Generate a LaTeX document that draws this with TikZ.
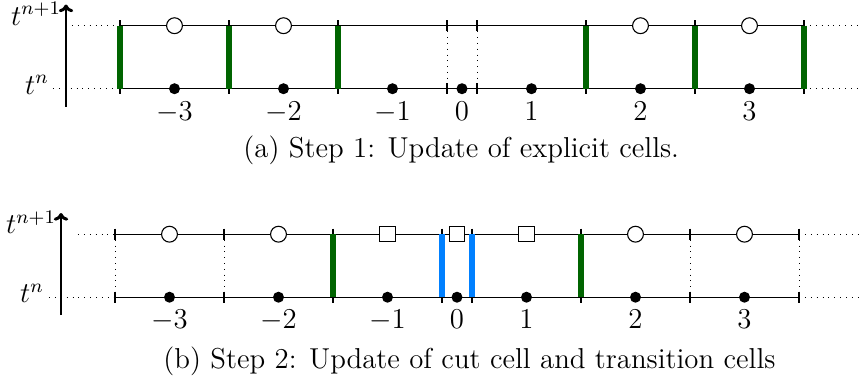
\documentclass[tikz,border=0pt]{standalone}
\usetikzlibrary{arrows.meta}
\definecolor{wallgreen}{RGB}{0,100,0}
\definecolor{cutblue}{RGB}{0,128,255}
\tikzset{
  levelline/.style={line width=0.45pt},
  extline/.style={dotted, line width=0.45pt},
  tickmark/.style={line width=0.45pt},
  faceline/.style={dotted, line width=0.4pt},
  greenwall/.style={draw=wallgreen, line width=2.1pt},
  bluewall/.style={draw=cutblue, line width=2.1pt},
  timearrow/.style={-{To[length=3.2pt,width=6pt]}, line width=1.25pt},
  newval/.style={circle, draw, fill=white, line width=0.45pt, inner sep=0pt, minimum size=6.6pt},
  cutval/.style={rectangle, draw, fill=white, line width=0.45pt, inner sep=0pt, minimum size=6.4pt},
  oldval/.style={circle, fill=black, inner sep=0pt, minimum size=4.6pt},
  celllabel/.style={anchor=base, inner sep=0pt},
  levellabel/.style={anchor=base, inner sep=0pt},
  captiontext/.style={anchor=base west, inner sep=0pt}
}
\begin{document}
\begin{tikzpicture}[x=0.4167pt, y=-0.4167pt, font=\fontsize{12}{14.5}\selectfont]
\useasboundingbox (0,0) rectangle (860,388);

% ---------- panel (a): explicit cells ----------
\begin{scope}
  \node[levellabel] (a-ltop) at (36,25) {$t^{n+1}$};
  \node[levellabel] (a-lbot) at (37,94) {$t^{n}$};
  \coordinate (a-up0) at (66,106.5);
  \coordinate (a-up1) at (66,4.5);
  \draw[timearrow] (a-up0) -- (a-up1);
  \foreach \i/\x in {0/120,1/229,2/338,3/447,4/477,5/586,6/695,7/804} {
    \coordinate (a-t\i) at (\x,25.7);
    \coordinate (a-b\i) at (\x,88.7);
  }
  \coordinate (a-et) at (72,25.7);
  \coordinate (a-eb) at (53,88.7);
  \coordinate (a-rt) at (860,25.7);
  \coordinate (a-rb) at (860,88.7);
  \draw[extline] (a-et) -- (a-t0);
  \draw[extline] (a-eb) -- (a-b0);
  \draw[extline] (a-t7) -- (a-rt);
  \draw[extline] (a-b7) -- (a-rb);
  \draw[levelline] (a-t0) -- (a-t7);
  \draw[levelline] (a-b0) -- (a-b7);
  \foreach \i in {0,...,7} {
    \draw[tickmark] (a-t\i) ++(0,-5.5) -- ++(0,11);
    \draw[tickmark] (a-b\i) ++(0,-5.5) -- ++(0,11);
  }
  \draw[faceline] (a-t3) -- (a-b3);
  \draw[faceline] (a-t4) -- (a-b4);
  \foreach \i in {0,1,2,5,6,7}
    \draw[greenwall] (a-t\i) -- (a-b\i);
  \foreach \j/\c/\lab in {1/174.5/-3,2/283.5/-2,3/392.5/-1,4/462/0,5/531.5/1,6/640.5/2,7/749.5/3} {
    \node[oldval] (a-old\j) at (\c,88.7) {};
    \node[celllabel] (a-lab\j) at (\c,120) {$\lab$};
  }
  \foreach \j/\c in {1/174.5,2/283.5,6/640.5,7/749.5}
    \node[newval] (a-new\j) at (\c,25.7) {};
\end{scope}
\node[captiontext] (capa) at (243,157.5) {(a) Step 1: Update of explicit cells.};

% ---------- panel (b): cut cell and transition cells ----------
\begin{scope}[shift={(-5,208.5)}]
  \node[levellabel] (b-ltop) at (36,25) {$t^{n+1}$};
  \node[levellabel] (b-lbot) at (37,94) {$t^{n}$};
  \coordinate (b-up0) at (66,106.5);
  \coordinate (b-up1) at (66,4.5);
  \draw[timearrow] (b-up0) -- (b-up1);
  \foreach \i/\x in {0/120,1/229,2/338,3/447,4/477,5/586,6/695,7/804} {
    \coordinate (b-t\i) at (\x,25.7);
    \coordinate (b-b\i) at (\x,88.7);
  }
  \coordinate (b-et) at (83,25.7);
  \coordinate (b-eb) at (54,88.7);
  \coordinate (b-rt) at (865,25.7);
  \coordinate (b-rb) at (865,88.7);
  \draw[extline] (b-et) -- (b-t0);
  \draw[extline] (b-eb) -- (b-b0);
  \draw[extline] (b-t7) -- (b-rt);
  \draw[extline] (b-b7) -- (b-rb);
  \draw[levelline] (b-t0) -- (b-t7);
  \draw[levelline] (b-b0) -- (b-b7);
  \foreach \i in {0,...,7} {
    \draw[tickmark] (b-t\i) ++(0,-5.5) -- ++(0,11);
    \draw[tickmark] (b-b\i) ++(0,-5.5) -- ++(0,11);
  }
  \foreach \i in {0,1,6,7}
    \draw[faceline] (b-t\i) -- (b-b\i);
  \foreach \i in {2,5}
    \draw[greenwall] (b-t\i) -- (b-b\i);
  \foreach \i in {3,4}
    \draw[bluewall] (b-t\i) -- (b-b\i);
  \foreach \j/\c/\lab in {1/174.5/-3,2/283.5/-2,3/392.5/-1,4/462/0,5/531.5/1,6/640.5/2,7/749.5/3} {
    \node[oldval] (b-old\j) at (\c,88.7) {};
    \node[celllabel] (b-lab\j) at (\c,120) {$\lab$};
  }
  \foreach \j/\c in {1/174.5,2/283.5,6/640.5,7/749.5}
    \node[newval] (b-new\j) at (\c,25.7) {};
  \foreach \j/\c in {3/392.5,4/462,5/531.5}
    \node[cutval] (b-cut\j) at (\c,25.7) {};
\end{scope}
\node[captiontext] (capb) at (163,368) {(b) Step 2: Update of cut cell and transition cells};
\end{tikzpicture}
\end{document}
